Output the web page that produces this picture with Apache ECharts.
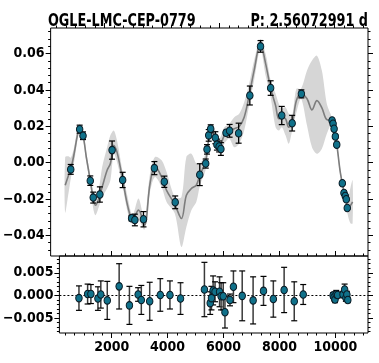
<!DOCTYPE html>
<html>
<head>
<meta charset="utf-8">
<script src="https://cdn.jsdelivr.net/npm/echarts@6/dist/echarts.min.js"></script>
<style>
  html, body { margin: 0; padding: 0; background: #fff; }
  #chart { width: 379px; height: 363px; }
</style>
</head>
<body>
<div id="chart"></div>
<script>
// observations (time in d, mag offset, error, residual from model)
const obsX = [828, 1138, 1255, 1507, 1610, 1841, 2266, 2634, 2945, 3059, 3359, 3738,
  4083, 4462, 5317, 5524, 5569, 5628, 5697, 5859, 5914, 5990, 6052, 6231,
  6355, 6669, 7059, 7431, 7783, 8169, 8531, 8852,
  9921, 9955, 9990, 10034, 10083, 10276, 10334, 10379, 10414, 10448];
const obsMag = [-0.0037, 0.0184, 0.0148, -0.0099, -0.0192, -0.0175, 0.0069, -0.0095, -0.0305, -0.0315, -0.0311, -0.0030,
  -0.0105, -0.0218, -0.0066, -0.0005, 0.0073, 0.0150, 0.0186, 0.0137, 0.0099, 0.0089, 0.0075, 0.0164,
  0.0175, 0.0162, 0.0369, 0.0639, 0.0410, 0.0259, 0.0217, 0.0378,
  0.0232, 0.0214, 0.0186, 0.0144, 0.0099, -0.0113, -0.0167, -0.0183, -0.0201, -0.0249];
const obsErr = [0.0027, 0.0022, 0.0021, 0.0026, 0.0030, 0.0042, 0.0050, 0.0042, 0.0015, 0.0032, 0.0042, 0.0036,
  0.0031, 0.0035, 0.0060, 0.0025, 0.0026, 0.0032, 0.0022, 0.0033, 0.0030, 0.0030, 0.0035, 0.0013,
  0.0035, 0.0055, 0.0052, 0.0032, 0.0040, 0.0050, 0.0043, 0.0022,
  0.0006, 0.0008, 0.0007, 0.0009, 0.0006, 0.0007, 0.0012, 0.0008, 0.0007, 0.0006];
const residual = [-0.0006, 0.0003, 0.0003, -0.0007, 0.0002, -0.0011, 0.0020, -0.0022, 0.0002, -0.0010, -0.0013, 0.0001,
  0.0001, -0.0007, 0.0013, -0.0017, -0.0006, 0.0011, 0.0008, 0.0008, -0.0002, -0.0002, -0.0037, -0.0010,
  0.0019, -0.0001, -0.0011, 0.0010, -0.0008, 0.0012, -0.0013, 0.0002,
  0.0000, -0.0004, -0.0009, 0.0002, 0.0001, 0.0002, 0.0013, -0.0005, 0.0002, -0.0010];

// GP model: mean and confidence band
const modelX = [635, 748, 828, 945, 1059, 1138, 1255, 1369, 1507, 1610, 1690, 1807, 1921, 2093, 2207, 2324, 2438,
  2634, 2817, 2979, 3186, 3393, 3586, 3758, 3990, 4162, 4448, 4679, 4851, 5024, 5196, 5324, 5517, 5600, 5689,
  5862, 6000, 6172, 6344, 6517, 6689, 6862, 7034, 7207, 7427, 7610, 7783, 7955, 8069, 8172, 8300, 8414, 8531,
  8679, 8841, 9048, 9221, 9393, 9565, 9738, 9910, 10024, 10103, 10196, 10289, 10403, 10483, 10565, 10634];
const modelMean = [-0.0124, -0.0070, -0.0037, 0.0049, 0.0150, 0.0192, 0.0150, 0.0031, -0.0097, -0.0197, -0.0234, -0.0197,
  -0.0134, -0.0042, -0.0005, 0.0095, 0.0058, -0.0093, -0.0243, -0.0312, -0.0261, -0.0344, -0.0115, -0.0019, -0.0079,
  -0.0152, -0.0230, -0.0307, -0.0179, -0.0142, -0.0124, -0.0066, 0.0003, 0.0095, 0.0177, 0.0140, 0.0085, 0.0150,
  0.0172, 0.0186, 0.0199, 0.0250, 0.0369, 0.0506, 0.0655, 0.0543, 0.0409, 0.0314, 0.0241, 0.0250, 0.0241, 0.0195,
  0.0214, 0.0341, 0.0378, 0.0351, 0.0290, 0.0341, 0.0301, 0.0236, 0.0232, 0.0150, 0.0077, -0.0042, -0.0124,
  -0.0207, -0.0243, -0.0234, -0.0216];
const modelLo = [-0.0276, -0.0170, -0.0088, 0.0003, 0.0122, 0.0168, 0.0126, 0.0003, -0.0124, -0.0252, -0.0289, -0.0243,
  -0.0189, -0.0142, -0.0097, 0.0049, 0.0003, -0.0134, -0.0279, -0.0338, -0.0316, -0.0367, -0.0161, -0.0079, -0.0134,
  -0.0216, -0.0279, -0.0463, -0.0353, -0.0261, -0.0216, -0.0124, -0.0042, 0.0058, 0.0140, 0.0104, 0.0049, 0.0104,
  0.0132, 0.0085, 0.0104, 0.0177, 0.0314, 0.0451, 0.0625, 0.0478, 0.0359, 0.0195, 0.0177, 0.0195, 0.0150, 0.0104,
  0.0177, 0.0277, 0.0351, 0.0204, 0.0085, 0.0049, 0.0077, 0.0159, 0.0214, 0.0132, 0.0058, -0.0060, -0.0142,
  -0.0234, -0.0298, -0.0334, -0.0334];
const modelHi = [0.0031, 0.0035, 0.0027, 0.0085, 0.0186, 0.0214, 0.0172, 0.0058, -0.0070, -0.0161, -0.0189, -0.0142,
  -0.0024, 0.0085, 0.0150, 0.0177, 0.0122, -0.0052, -0.0197, -0.0289, -0.0197, -0.0307, -0.0060, 0.0031, 0.0013,
  -0.0052, -0.0189, -0.0189, 0.0031, 0.0049, -0.0005, -0.0005, 0.0049, 0.0132, 0.0214, 0.0177, 0.0132, 0.0195,
  0.0214, 0.0250, 0.0269, 0.0332, 0.0433, 0.0561, 0.0680, 0.0597, 0.0451, 0.0378, 0.0323, 0.0296, 0.0305, 0.0269,
  0.0259, 0.0406, 0.0406, 0.0506, 0.0561, 0.0588, 0.0506, 0.0323, 0.0250, 0.0168, 0.0095, -0.0024, -0.0106,
  -0.0179, -0.0189, -0.0134, -0.0097];

// tick labels
const xTicks = [2000, 4000, 6000, 8000, 10000];
const magTicks = [-0.04, -0.02, 0, 0.02, 0.04, 0.06];
const resTicks = [-0.005, 0, 0.005];

const FONT = "'Liberation Sans Narrow', 'DejaVu Sans Condensed', 'Arial Narrow', sans-serif";
const X_MIN = 128, X_MAX = 11170;
const MAG_MIN = -0.0513, MAG_MAX = 0.0740;
const RES_MIN = -0.0083, RES_MAX = 0.0087;

function steps(min, max, step) {
  const out = [];
  for (let v = Math.ceil(min / step) * step; v <= max; v += step) out.push(+v.toFixed(6));
  return out;
}

function minus(s) { return s.replace('-', '\u2212'); }

// one axis that only draws ticks (and optionally labels)
function tickAxis(grid, pos, min, max, ticks, len, fmt) {
  return {
    type: 'value', gridIndex: grid, position: pos, min: min, max: max,
    axisLine: { show: false, onZero: false },
    splitLine: { show: false },
    axisTick: { show: true, inside: false, length: len, customValues: ticks,
      lineStyle: { color: '#000', width: 1 } },
    axisLabel: fmt ? {
      show: true, customValues: ticks, formatter: fmt, margin: pos === 'left' ? 6 : 7,
      fontFamily: FONT, fontWeight: 'bold', fontSize: 14, color: '#000'
    } : { show: false }
  };
}

function errBars(color, width) {
  return function (params, api) {
    const x = api.value(0);
    const a = api.coord([x, api.value(2)]);
    const b = api.coord([x, api.value(1)]);
    const st = { stroke: color, lineWidth: width };
    return {
      type: 'group', children: [
        { type: 'line', shape: { x1: a[0], y1: a[1], x2: b[0], y2: b[1] }, style: st },
        { type: 'line', shape: { x1: a[0] - 3, y1: a[1], x2: a[0] + 3, y2: a[1] }, style: { stroke: '#000', lineWidth: 1.2 } },
        { type: 'line', shape: { x1: b[0] - 3, y1: b[1], x2: b[0] + 3, y2: b[1] }, style: { stroke: '#000', lineWidth: 1.2 } }
      ]
    };
  };
}

const chart = echarts.init(document.getElementById('chart'));

const xMinor = steps(X_MIN, X_MAX, 2000 / 6);
const magMinor = steps(MAG_MIN, MAG_MAX, 0.004);
const resMinor = steps(RES_MIN, RES_MAX, 0.001);
const magFmt = v => minus(v.toFixed(2));
const resFmt = v => minus(v.toFixed(3));

chart.setOption({
  animation: false,
  // titles are squeezed horizontally like the reference lettering
  graphic: [
    { type: 'text', x: 48, y: 12, scaleX: 0.79, style: { text: 'OGLE-LMC-CEP-0779', fontFamily: FONT,
      fontWeight: 'bold', fontSize: 18, fill: '#000', textAlign: 'left', textVerticalAlign: 'top' } },
    { type: 'text', x: 368, y: 12, scaleX: 0.79, style: { text: 'P: 2.56072991 d', fontFamily: FONT,
      fontWeight: 'bold', fontSize: 18, fill: '#000', textAlign: 'right', textVerticalAlign: 'top' } }
  ],
  grid: [
    { left: 48, top: 28, width: 320, height: 228, show: true, borderColor: '#000', borderWidth: 1 },
    { left: 48, top: 256, width: 320, height: 77, show: true, borderColor: '#000', borderWidth: 1 }
  ],
  xAxis: [
    { type: 'value', gridIndex: 0, position: 'bottom', min: X_MIN, max: X_MAX,
      axisLine: { show: false, onZero: false }, axisTick: { show: false }, axisLabel: { show: false }, splitLine: { show: false } },
    tickAxis(0, 'top', X_MIN, X_MAX, xTicks, 5),
    tickAxis(0, 'top', X_MIN, X_MAX, xMinor, 2.5),
    tickAxis(1, 'bottom', X_MIN, X_MAX, xTicks, 5, v => String(v)),
    tickAxis(1, 'bottom', X_MIN, X_MAX, xMinor, 2.5),
    tickAxis(1, 'top', X_MIN, X_MAX, xTicks, 5),
    tickAxis(1, 'top', X_MIN, X_MAX, xMinor, 2.5)
  ],
  yAxis: [
    tickAxis(0, 'left', MAG_MIN, MAG_MAX, magTicks, 5, magFmt),
    tickAxis(0, 'left', MAG_MIN, MAG_MAX, magMinor, 2.5),
    tickAxis(0, 'right', MAG_MIN, MAG_MAX, magTicks, 5),
    tickAxis(0, 'right', MAG_MIN, MAG_MAX, magMinor, 2.5),
    tickAxis(1, 'left', RES_MIN, RES_MAX, resTicks, 5, resFmt),
    tickAxis(1, 'left', RES_MIN, RES_MAX, resMinor, 2.5),
    tickAxis(1, 'right', RES_MIN, RES_MAX, resTicks, 5),
    tickAxis(1, 'right', RES_MIN, RES_MAX, resMinor, 2.5)
  ],
  series: [
    {
      // confidence band
      type: 'custom', xAxisIndex: 0, yAxisIndex: 0, z: 1, silent: true,
      data: modelX.map((x, i) => [x, modelLo[i], modelHi[i]]),
      renderItem: function (params, api) {
        if (params.dataIndex !== 0) return null;
        const pts = [];
        modelX.forEach((x, i) => pts.push(api.coord([x, modelHi[i]])));
        for (let i = modelX.length - 1; i >= 0; i--) pts.push(api.coord([modelX[i], modelLo[i]]));
        return { type: 'polygon', shape: { points: pts, smooth: 0.3 }, style: { fill: '#d6d6d6' } };
      }
    },
    {
      type: 'line', xAxisIndex: 0, yAxisIndex: 0, z: 2, silent: true,
      data: modelX.map((x, i) => [x, modelMean[i]]),
      showSymbol: false, smooth: 0.35,
      lineStyle: { color: '#7d7d7d', width: 1.6 }
    },
    {
      type: 'custom', xAxisIndex: 0, yAxisIndex: 0, z: 3, silent: true,
      data: obsX.map((x, i) => [x, obsMag[i] - obsErr[i], obsMag[i] + obsErr[i]]),
      encode: { x: 0, y: [1, 2] },
      renderItem: errBars('#000', 1.3)
    },
    {
      type: 'scatter', xAxisIndex: 0, yAxisIndex: 0, z: 4,
      data: obsX.map((x, i) => [x, obsMag[i]]),
      symbol: 'circle', symbolSize: [6.5, 7.5],
      itemStyle: { color: '#10718a', borderColor: '#0a1a24', borderWidth: 1, opacity: 1 }
    },
    {
      type: 'custom', xAxisIndex: 3, yAxisIndex: 4, z: 3, silent: true,
      data: obsX.map((x, i) => [x, residual[i] - obsErr[i], residual[i] + obsErr[i]]),
      encode: { x: 0, y: [1, 2] },
      renderItem: errBars('#3a3a3a', 1.5)
    },
    {
      type: 'scatter', xAxisIndex: 3, yAxisIndex: 4, z: 4,
      data: obsX.map((x, i) => [x, residual[i]]),
      symbol: 'circle', symbolSize: [6.5, 7.5],
      itemStyle: { color: '#10718a', borderColor: '#0a1a24', borderWidth: 1, opacity: 1 },
      markLine: {
        silent: true, symbol: 'none', label: { show: false }, z: 2,
        lineStyle: { type: [2, 2], color: '#000', width: 1 },
        data: [{ yAxis: 0 }]
      }
    }
  ]
});
</script>
</body>
</html>
